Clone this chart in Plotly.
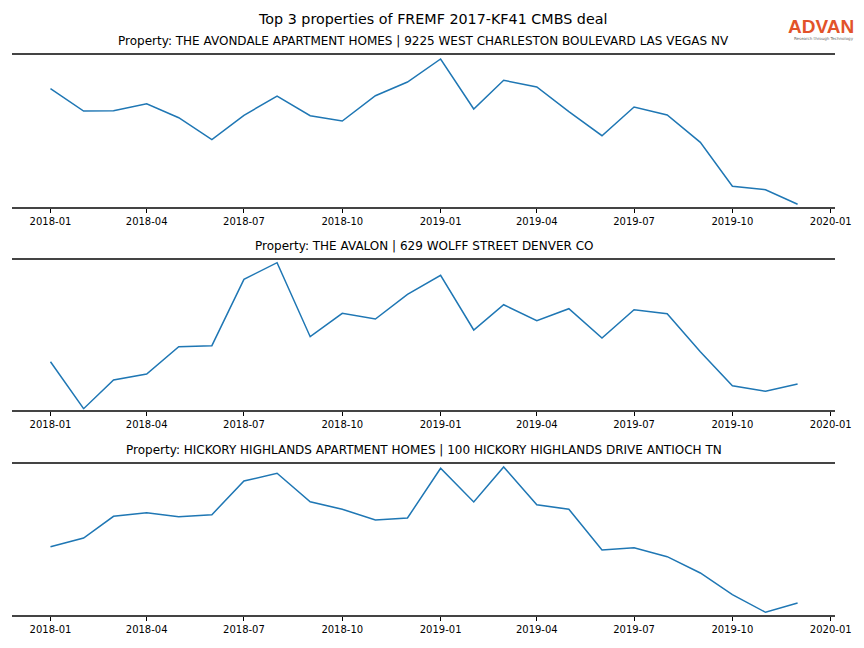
import plotly.graph_objects as go

months = ["2018-01-01", "2018-02-01", "2018-03-01", "2018-04-01", "2018-05-01", "2018-06-01",
          "2018-07-01", "2018-08-01", "2018-09-01", "2018-10-01", "2018-11-01", "2018-12-01",
          "2019-01-01", "2019-02-01", "2019-03-01", "2019-04-01", "2019-05-01", "2019-06-01",
          "2019-07-01", "2019-08-01", "2019-09-01", "2019-10-01", "2019-11-01", "2019-12-01"]

avondale = [118.0, 95.7, 96.0, 103.0, 89.0, 67.0, 91.4, 110.7, 91.0, 85.7, 111.0, 124.7,
            147.7, 97.7, 126.4, 119.7, 95.0, 71.0, 99.7, 91.7, 64.4, 20.4, 17.0, 2.4]
avalon = [48.0, 1.0, 29.7, 35.7, 63.0, 64.0, 130.4, 147.0, 73.0, 96.4, 90.7, 115.4,
          134.4, 79.7, 105.0, 89.0, 101.0, 71.7, 100.0, 96.0, 58.0, 24.0, 18.4, 25.7]
hickory = [68.0, 76.7, 98.4, 102.0, 98.0, 100.0, 133.7, 141.4, 113.0, 105.4, 94.7, 96.7,
           146.4, 112.7, 147.7, 110.0, 105.4, 64.7, 67.0, 58.0, 41.7, 20.0, 2.4, 11.7]

titles = ["Property: THE AVONDALE APARTMENT HOMES | 9225 WEST CHARLESTON BOULEVARD LAS VEGAS NV",
          "Property: THE AVALON | 629 WOLFF STREET DENVER CO",
          "Property: HICKORY HIGHLANDS APARTMENT HOMES | 100 HICKORY HIGHLANDS DRIVE ANTIOCH TN"]
series = [avondale, avalon, hickory]
y_ranges = [[0, 151.7], [0, 149.7], [0, 151.0]]

tick_vals = ["2018-01-01", "2018-04-01", "2018-07-01", "2018-10-01", "2019-01-01",
             "2019-04-01", "2019-07-01", "2019-10-01", "2020-01-01"]
tick_text = ["2018-01", "2018-04", "2018-07", "2018-10", "2019-01",
             "2019-04", "2019-07", "2019-10", "2020-01"]

W, H = 864, 648
panels_px = [(55, 206.7), (260, 409.7), (463.7, 614.7)]

fig = go.Figure()
layout = dict(
    width=W, height=H, autosize=False, margin=dict(l=12, r=29, t=0, b=0),
    paper_bgcolor="white", plot_bgcolor="white", showlegend=False,
    font=dict(family="DejaVu Sans", color="black"),
)
annotations = []
for i, (vals, title) in enumerate(zip(series, titles)):
    n = "" if i == 0 else str(i + 1)
    top, bot = panels_px[i]
    fig.add_trace(go.Scatter(x=months, y=vals, mode="lines",
                             line=dict(color="#1f77b4", width=1.5),
                             xaxis="x" + n, yaxis="y" + n))
    layout["xaxis" + n] = dict(
        domain=[0, 1], anchor="y" + n, type="date",
        range=["2017-11-26", "2020-01-05"],
        tickvals=tick_vals, ticktext=tick_text,
        ticks="outside", ticklen=4, tickwidth=0.8, tickcolor="black",
        tickfont=dict(size=10, family="DejaVu Sans"),
        showline=True, mirror=True, linecolor="#444444", linewidth=2,
        showgrid=False, zeroline=False,
    )
    layout["yaxis" + n] = dict(
        domain=[1 - bot / H, 1 - top / H], anchor="x" + n,
        range=y_ranges[i], showticklabels=False, ticks="",
        showgrid=False, zeroline=False, showline=False,
    )
    annotations.append(dict(text=title, x=0.5, xref="paper", xanchor="center",
                            y=1 - top / H, yref="paper", yanchor="bottom", yshift=5,
                            showarrow=False, font=dict(size=12, family="DejaVu Sans")))

annotations.append(dict(text="Top 3 properties of FREMF 2017-KF41 CMBS deal", x=0.5, xref="paper",
                        xshift=8.5, xanchor="center",
                        y=1 - 19 / H, yref="paper", yanchor="middle", showarrow=False,
                        font=dict(size=14.3, family="DejaVu Sans")))
annotations.append(dict(text="<b>ADVAN</b>", x=1, xref="paper", xanchor="right", xshift=21,
                        y=1 - 27 / H, yref="paper", yanchor="middle", showarrow=False,
                        font=dict(size=19, family="Liberation Sans", color="#e2532a")))
annotations.append(dict(text="Research through Technology", x=1, xref="paper", xanchor="right",
                        xshift=21, y=1 - 38.5 / H, yref="paper", yanchor="middle", showarrow=False,
                        font=dict(size=4, family="DejaVu Sans", color="#666666")))
layout["annotations"] = annotations
fig.update_layout(**layout)

post = """
var gd = document.getElementById('{plot_id}');
document.documentElement.style.margin = '0';
document.documentElement.style.overflow = 'hidden';
document.body.style.margin = '0';
document.body.style.padding = '0';
document.body.style.overflow = 'hidden';
function fixSize() {
  if (gd._fullLayout && gd._fullLayout.width !== 864) {
    Plotly.relayout(gd, {autosize: false, width: 864, height: 648});
  }
}
setTimeout(fixSize, 0);
setTimeout(fixSize, 300);
"""
fig.write_html("out.html", post_script=post,
               config={"responsive": False, "displayModeBar": False})
